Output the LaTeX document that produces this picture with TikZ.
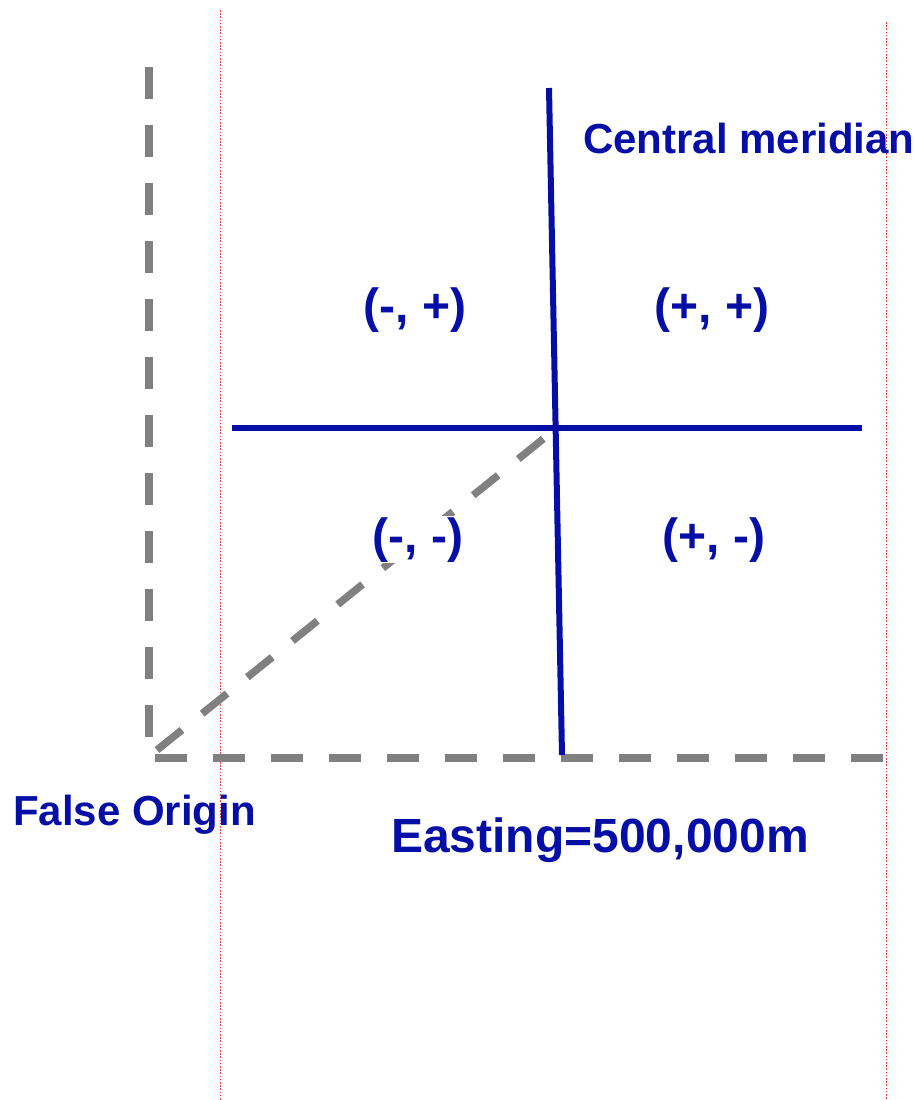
\documentclass[tikz,border=0pt]{standalone}
\usepackage{fontspec}
\setmainfont{Liberation Sans}
\definecolor{navy}{RGB}{5,15,165}
\definecolor{dashgray}{RGB}{128,128,128}
\definecolor{guidered}{RGB}{240,60,60}
\tikzset{
  guide/.style={draw=guidered, line width=0.9pt, dash pattern=on 1.6pt off 1.6pt},
  grayaxis/.style={draw=dashgray, line width=7.5pt, dash pattern=on 32pt off 26pt},
  blueaxis/.style={draw=navy, line width=6pt},
  quad/.style={text=navy, font=\bfseries\fontsize{48}{56}\selectfont, inner sep=1pt, anchor=base},
  lbl/.style={text=navy, font=\bfseries\fontsize{42}{50}\selectfont, inner sep=0pt},
}
\begin{document}
\begin{tikzpicture}[x=1pt,y=-1pt]
\useasboundingbox (0,0) rectangle (917,1100);
% red guide lines
\coordinate (g1t) at (220.5,10);
\coordinate (g1b) at (220.5,1100);
\coordinate (g2t) at (886,22);
\coordinate (g2b) at (886,1100);
\draw[guide] (g1t) -- (g1b);
\draw[guide] (g2t) -- (g2b);
% false-origin axes
\coordinate (vt) at (149,67);
\coordinate (vb) at (149,740);
\coordinate (hl) at (155,758);
\coordinate (hr) at (883,758);
\coordinate (dl) at (157,750);
\coordinate (dr) at (553,431);
\draw[grayaxis] (vt) -- (vb);
\draw[grayaxis] (hl) -- (hr);
\draw[grayaxis] (dl) -- (dr);
% quadrant labels
\node[quad, fill=white] (mm) at (418,552) {(-, -)};
\node[quad] (mp) at (415,322) {(-, +)};
\node[quad] (pp) at (712,322) {(+, +)};
\node[quad] (pm) at (714,552) {(+, -)};
% central meridian and parallel
\coordinate (cmt) at (549,88);
\coordinate (cmb) at (562,755);
\coordinate (el) at (232,428);
\coordinate (er) at (862,428);
\draw[blueaxis] (cmt) -- (cmb);
\draw[blueaxis] (el) -- (er);
% text labels
\node[lbl, anchor=base west] (cm) at (583,153) {Central meridian};
\node[lbl, anchor=base west] (fo) at (13,825) {False Origin};
\node[lbl, anchor=base, font=\bfseries\fontsize{48}{56}\selectfont] (east) at (600,852) {Easting=500,000m};
\end{tikzpicture}
\end{document}
